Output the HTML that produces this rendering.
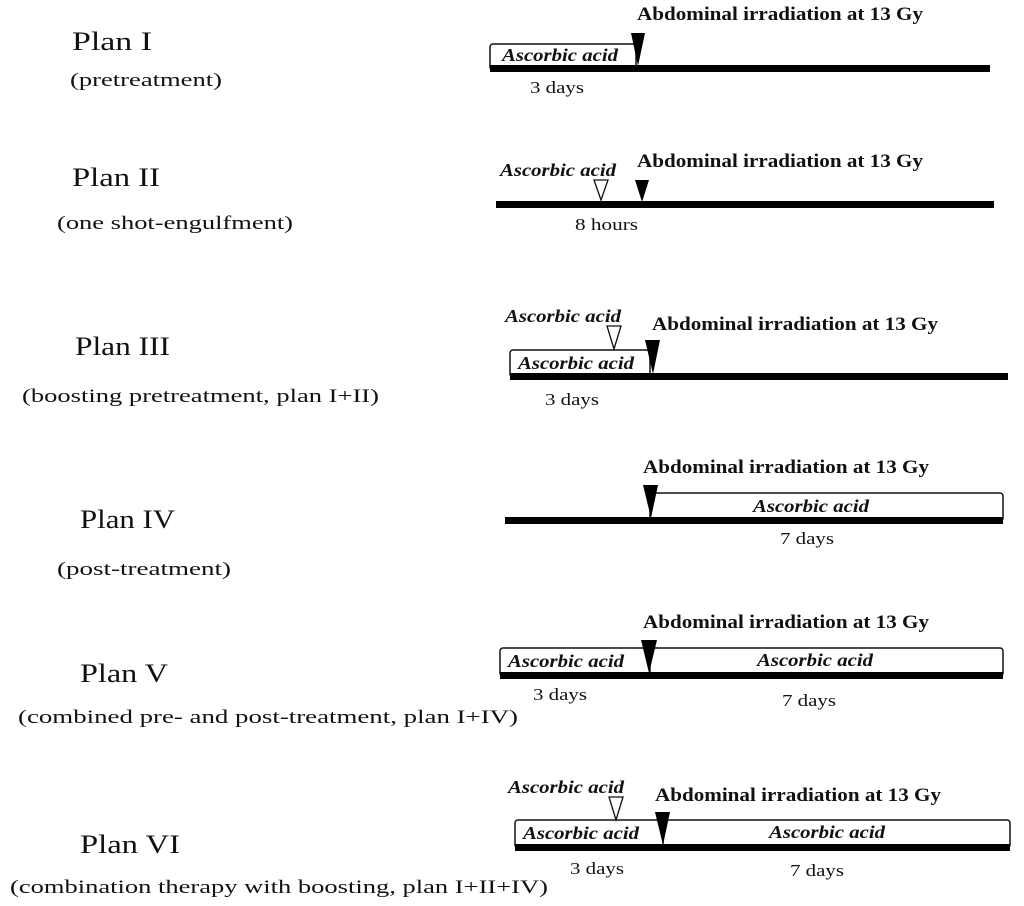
<!DOCTYPE html>
<html><head><meta charset="utf-8"><style>
html,body{margin:0;padding:0;background:#fff;}
svg{display:block;}
text{font-family:"Liberation Serif",serif;fill:#111;}
.p{font-size:26px;}
.s{font-size:19px;}
.t{font-size:19px;font-weight:bold;}
.a{font-size:18px;font-weight:bold;font-style:italic;}
.d{font-size:17px;}
</style></head><body>
<svg width="1024" height="906" viewBox="0 0 1024 906" xmlns="http://www.w3.org/2000/svg">
<g fill="none" stroke="#111" stroke-width="1.5">
<rect x="490" y="44" width="146" height="26" rx="3"/>
<rect x="510" y="350" width="140" height="27" rx="3"/>
<rect x="650" y="493" width="353" height="28" rx="3"/>
<rect x="500" y="648" width="503" height="28" rx="3"/>
<line x1="650" y1="648" x2="650" y2="676"/>
<rect x="515" y="820" width="495" height="28" rx="3"/>
<line x1="663" y1="820" x2="663" y2="848"/>
</g>
<g fill="#000">
<rect x="490" y="65" width="500" height="7"/>
<rect x="496" y="201" width="498" height="7"/>
<rect x="510" y="373" width="498" height="7"/>
<rect x="505" y="517" width="498" height="7"/>
<rect x="500" y="672" width="503" height="7"/>
<rect x="515" y="844" width="495" height="7"/>
<polygon points="631,33 645,33 638,66"/>
<polygon points="635,180 649,180 642,202"/>
<polygon points="645,340 660,340 653,374"/>
<polygon points="643,485 658,485 651,518"/>
<polygon points="641,640 657,640 649,673"/>
<polygon points="655,812 670,812 663,845"/>
</g>
<g fill="#fff" stroke="#111" stroke-width="1.3">
<polygon points="594,180 608,180 601,200"/>
<polygon points="607,326 621,326 614,349"/>
<polygon points="609,797 623,797 616,820"/>
</g>
<g lengthAdjust="spacingAndGlyphs">
<text class="p" x="72" y="50" textLength="80" lengthAdjust="spacingAndGlyphs">Plan I</text>
<text class="s" x="70" y="86" textLength="152" lengthAdjust="spacingAndGlyphs">(pretreatment)</text>
<text class="p" x="72" y="186" textLength="88" lengthAdjust="spacingAndGlyphs">Plan II</text>
<text class="s" x="57" y="229" textLength="236" lengthAdjust="spacingAndGlyphs">(one shot-engulfment)</text>
<text class="p" x="75" y="355" textLength="95" lengthAdjust="spacingAndGlyphs">Plan III</text>
<text class="s" x="22" y="402" textLength="357" lengthAdjust="spacingAndGlyphs">(boosting pretreatment, plan I+II)</text>
<text class="p" x="80" y="528" textLength="95" lengthAdjust="spacingAndGlyphs">Plan IV</text>
<text class="s" x="57" y="575" textLength="174" lengthAdjust="spacingAndGlyphs">(post-treatment)</text>
<text class="p" x="80" y="682" textLength="88" lengthAdjust="spacingAndGlyphs">Plan V</text>
<text class="s" x="18" y="723" textLength="500" lengthAdjust="spacingAndGlyphs">(combined pre- and post-treatment, plan I+IV)</text>
<text class="p" x="80" y="853" textLength="100" lengthAdjust="spacingAndGlyphs">Plan VI</text>
<text class="s" x="10" y="893" textLength="538" lengthAdjust="spacingAndGlyphs">(combination therapy with boosting, plan I+II+IV)</text>

<text class="t" x="637" y="20" textLength="286" lengthAdjust="spacingAndGlyphs">Abdominal irradiation at 13 Gy</text>
<text class="a" x="502" y="61" textLength="116" lengthAdjust="spacingAndGlyphs">Ascorbic acid</text>
<text class="d" x="530" y="93" textLength="54" lengthAdjust="spacingAndGlyphs">3 days</text>

<text class="a" x="500" y="176" textLength="116" lengthAdjust="spacingAndGlyphs">Ascorbic acid</text>
<text class="t" x="637" y="167" textLength="286" lengthAdjust="spacingAndGlyphs">Abdominal irradiation at 13 Gy</text>
<text class="d" x="575" y="230" textLength="63" lengthAdjust="spacingAndGlyphs">8 hours</text>

<text class="a" x="505" y="322" textLength="116" lengthAdjust="spacingAndGlyphs">Ascorbic acid</text>
<text class="t" x="652" y="330" textLength="286" lengthAdjust="spacingAndGlyphs">Abdominal irradiation at 13 Gy</text>
<text class="a" x="518" y="369" textLength="116" lengthAdjust="spacingAndGlyphs">Ascorbic acid</text>
<text class="d" x="545" y="405" textLength="54" lengthAdjust="spacingAndGlyphs">3 days</text>

<text class="t" x="643" y="473" textLength="286" lengthAdjust="spacingAndGlyphs">Abdominal irradiation at 13 Gy</text>
<text class="a" x="753" y="512" textLength="116" lengthAdjust="spacingAndGlyphs">Ascorbic acid</text>
<text class="d" x="780" y="544" textLength="54" lengthAdjust="spacingAndGlyphs">7 days</text>

<text class="t" x="643" y="628" textLength="286" lengthAdjust="spacingAndGlyphs">Abdominal irradiation at 13 Gy</text>
<text class="a" x="508" y="667" textLength="116" lengthAdjust="spacingAndGlyphs">Ascorbic acid</text>
<text class="a" x="757" y="666" textLength="116" lengthAdjust="spacingAndGlyphs">Ascorbic acid</text>
<text class="d" x="533" y="700" textLength="54" lengthAdjust="spacingAndGlyphs">3 days</text>
<text class="d" x="782" y="706" textLength="54" lengthAdjust="spacingAndGlyphs">7 days</text>

<text class="a" x="508" y="793" textLength="116" lengthAdjust="spacingAndGlyphs">Ascorbic acid</text>
<text class="t" x="655" y="801" textLength="286" lengthAdjust="spacingAndGlyphs">Abdominal irradiation at 13 Gy</text>
<text class="a" x="523" y="839" textLength="116" lengthAdjust="spacingAndGlyphs">Ascorbic acid</text>
<text class="a" x="769" y="838" textLength="116" lengthAdjust="spacingAndGlyphs">Ascorbic acid</text>
<text class="d" x="570" y="874" textLength="54" lengthAdjust="spacingAndGlyphs">3 days</text>
<text class="d" x="790" y="876" textLength="54" lengthAdjust="spacingAndGlyphs">7 days</text>
</g>
</svg>
</body></html>
